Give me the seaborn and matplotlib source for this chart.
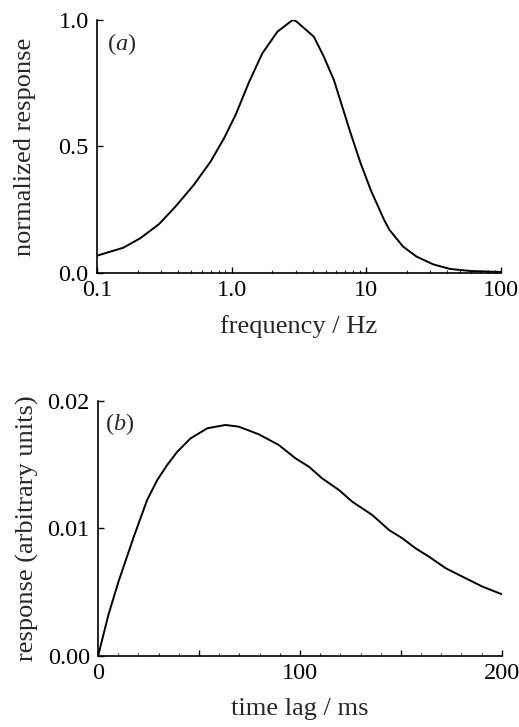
import numpy as np
import pandas as pd
import matplotlib
matplotlib.use("Agg")
import matplotlib.pyplot as plt
import seaborn as sns
from matplotlib.ticker import FixedLocator, FixedFormatter, MultipleLocator, LogLocator, NullFormatter

# Panel (a): frequency response
freq_hz = [0.1, 0.157, 0.209, 0.287, 0.382, 0.523, 0.697, 0.877, 1.07, 1.35, 1.69, 2.19, 2.84,
           3.0, 3.25, 4.08, 4.84, 5.75, 6.64, 7.66, 9.08, 10.8, 13.6, 14.9, 18.8, 23.6, 31.5, 41.9, 59.1, 100]
norm_resp = [0.0685, 0.100, 0.137, 0.192, 0.262, 0.348, 0.44, 0.532, 0.625, 0.756, 0.868, 0.954, 1.0,
             0.996, 0.98, 0.934, 0.855, 0.763, 0.657, 0.552, 0.434, 0.328, 0.209, 0.170, 0.104, 0.065, 0.034, 0.016, 0.008, 0.004]

# Panel (b): impulse response
time_ms = [0, 5.1, 10.1, 17.7, 24.3, 29.3, 34.2, 39.2, 45.8, 54.1, 63.0, 69.6, 79.6, 89.5,
           97.8, 104.4, 111.0, 119.3, 125.9, 135.8, 144.1, 150.7, 157.3, 163.9, 172.2, 180.5, 190.4, 200]
resp_au = [0, 0.00322, 0.00583, 0.00936, 0.01224, 0.0138, 0.01498, 0.01602, 0.01707, 0.01786, 0.01812, 0.01799, 0.01739, 0.01655,
           0.0155, 0.01485, 0.01393, 0.01302, 0.0121, 0.01106, 0.00988, 0.00923, 0.00844, 0.00779, 0.00688, 0.00622, 0.00544, 0.00484]

xa_ticks = [0.1, 1, 10, 100]
xa_labels = ["0.1", "1.0", "10", "100"]
ya_ticks = [0.0, 0.5, 1.0]
ya_labels = ["0.0", "0.5", "1.0"]
xb_ticks = [0, 50, 100, 150, 200]
xb_labels = ["0", "", "100", "", "200"]
yb_ticks = [0.0, 0.01, 0.02]
yb_labels = ["0.00", "0.01", "0.02"]

sns.set_style("ticks")
plt.rcParams["font.family"] = ["Liberation Serif", "DejaVu Serif"]
plt.rcParams["mathtext.fontset"] = "custom"
plt.rcParams["mathtext.rm"] = "Liberation Serif"
plt.rcParams["mathtext.it"] = "Liberation Serif:italic"

fig = plt.figure(figsize=(5.19, 7.27), dpi=100)
ax1 = fig.add_axes([0.187, 0.6245, 0.778, 0.348])
ax2 = fig.add_axes([0.189, 0.0977, 0.778, 0.3507])

dfa = pd.DataFrame({"f": freq_hz, "r": norm_resp})
dfb = pd.DataFrame({"t": time_ms, "r": resp_au})

sns.lineplot(data=dfa, x="f", y="r", ax=ax1, color="black", linewidth=1.4)
sns.lineplot(data=dfb, x="t", y="r", ax=ax2, color="black", linewidth=1.4)

fs_tick = 17.5
fs_lab = 19
for ax in (ax1, ax2):
    sns.despine(ax=ax)
    for s in ("left", "bottom"):
        ax.spines[s].set_linewidth(1.2)
        ax.spines[s].set_color("black")
    ax.tick_params(which="major", direction="in", length=4, width=1.0, labelsize=fs_tick, colors="black")
    ax.tick_params(which="minor", direction="in", length=2.2, width=0.8)
    ax.tick_params(axis="y", which="major", pad=6)
    ax.tick_params(axis="x", which="major", pad=5)

ax1.set_xscale("log")
ax1.set_xlim(0.1, 100)
ax1.set_ylim(0, 1.0)
ax1.xaxis.set_major_locator(FixedLocator(xa_ticks))
ax1.xaxis.set_major_formatter(FixedFormatter(xa_labels))
ax1.xaxis.set_minor_locator(LogLocator(base=10, subs=np.arange(2, 10)))
ax1.xaxis.set_minor_formatter(NullFormatter())
ax1.yaxis.set_major_locator(FixedLocator(ya_ticks))
ax1.yaxis.set_major_formatter(FixedFormatter(ya_labels))
ax1.set_xlabel("frequency / Hz", fontsize=fs_lab, labelpad=10)
ax1.set_ylabel("normalized response", fontsize=fs_lab, labelpad=16)
ax1.text(0.025, 0.955, r"$(\mathit{a})$", transform=ax1.transAxes, fontsize=fs_tick, va="top", ha="left")

ax2.set_xlim(0, 200)
ax2.set_ylim(0, 0.02)
ax2.xaxis.set_major_locator(FixedLocator(xb_ticks))
ax2.xaxis.set_major_formatter(FixedFormatter(xb_labels))
ax2.xaxis.set_minor_locator(MultipleLocator(10))
ax2.yaxis.set_major_locator(FixedLocator(yb_ticks))
ax2.yaxis.set_major_formatter(FixedFormatter(yb_labels))
ax2.set_xlabel("time lag / ms", fontsize=fs_lab, labelpad=10)
ax2.set_ylabel("response (arbitrary units)", fontsize=fs_lab, labelpad=6)
ax2.text(0.018, 0.96, r"$(\mathit{b})$", transform=ax2.transAxes, fontsize=fs_tick, va="top", ha="left")

fig.savefig("out.png", dpi=100)
